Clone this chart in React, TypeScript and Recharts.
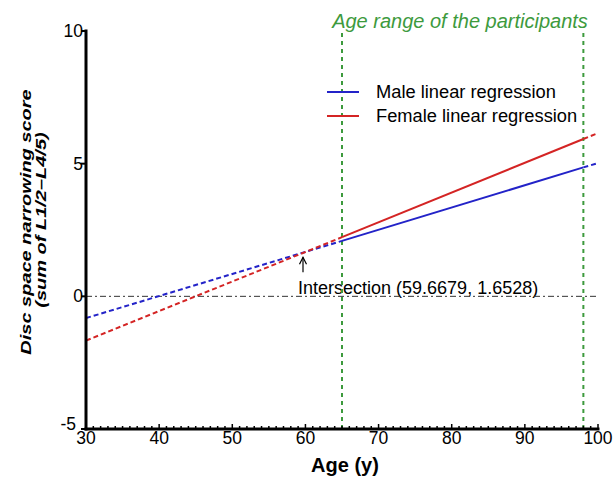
import { LineChart, Line, XAxis, YAxis, ReferenceLine, ReferenceDot, Legend, Customized } from "recharts";

const FONT = "Liberation Sans, Arial, sans-serif";
const BLUE = "#2323c8";
const RED = "#d42424";
const GREEN = "#3d9a3d";

const MAJOR_X = [30, 40, 50, 60, 70, 80, 90, 100];
const X_TICKS = Array.from({ length: 71 }, (_, i) => 30 + i);
const Y_TICKS = [-5, 0, 5, 10];

// age range of the participants
const AGE_RANGE = [65, 98];
const INTERSECTION = { age: 59.6679, score: 1.6528 };

// regression lines, split at the age range limits
const MALE_BEFORE = [{ age: 30, score: -0.82 }, { age: 65, score: 2.09 }];
const MALE_IN = [{ age: 65, score: 2.09 }, { age: 98, score: 4.86 }];
const MALE_AFTER = [{ age: 98, score: 4.86 }, { age: 100, score: 5.02 }];
const FEMALE_BEFORE = [{ age: 30, score: -1.67 }, { age: 65, score: 2.23 }];
const FEMALE_IN = [{ age: 65, score: 2.23 }, { age: 98, score: 5.93 }];
const FEMALE_AFTER = [{ age: 98, score: 5.93 }, { age: 100, score: 6.15 }];

const SERIES = [
  { name: "Male linear regression", color: BLUE },
  { name: "Female linear regression", color: RED },
];

function XTick({ x, y, payload }: any) {
  const v = payload.value;
  const major = MAJOR_X.includes(v);
  return (
    <g>
      <line x1={x} x2={x} y1={y} y2={y - (major ? 5 : 3)} stroke="#000" strokeWidth={1.5} />
      {major && (
        <text x={x} y={y + 15} textAnchor="middle" fontSize={17.5} fontFamily={FONT} fill="#000">
          {v}
        </text>
      )}
    </g>
  );
}

function YTick({ x, y, payload }: any) {
  // bottom label is nudged so it clears the "30" below it
  const bottom = payload.value === Y_TICKS[0];
  return (
    <g>
      <line x1={x} x2={x - 5} y1={y} y2={y} stroke="#000" strokeWidth={2} />
      <text x={x - (bottom ? 10 : 3)} y={y + (bottom ? 1 : 6)} textAnchor="end" fontSize={17.5} fontFamily={FONT} fill="#000">
        {payload.value}
      </text>
    </g>
  );
}

function Arrowhead({ cx, cy }: any) {
  return <path d={`M${cx - 3.5},${cy + 7} L${cx},${cy} L${cx + 3.5},${cy + 7}`} stroke="#000" strokeWidth={1.2} fill="none" />;
}

function LegendBox() {
  return (
    <div style={{ fontFamily: FONT, fontSize: 18.3 }}>
      {SERIES.map((s) => (
        <div key={s.name} style={{ display: "flex", alignItems: "center", height: 24 }}>
          <div style={{ width: 32, height: 2, background: s.color, marginRight: 17 }} />
          <span>{s.name}</span>
        </div>
      ))}
    </div>
  );
}

function Texts() {
  return (
    <g fontFamily={FONT}>
      <text x={460} y={28} textAnchor="middle" fontSize={20} fontStyle="italic" fill={GREEN}>
        Age range of the participants
      </text>
      <text x={298} y={294} fontSize={18} fill="#000">
        Intersection ({INTERSECTION.age}, {INTERSECTION.score})
      </text>
      <text transform="translate(31,222) rotate(-90) scale(1,0.75)" textAnchor="middle" fontSize={20} fontWeight="bold" fontStyle="italic">
        Disc space narrowing score
      </text>
      <text transform="translate(45.5,220) rotate(-90) scale(1,0.75)" textAnchor="middle" fontSize={20} fontWeight="bold" fontStyle="italic">
        (sum of L1/2–L4/5)
      </text>
      <text x={345} y={472} textAnchor="middle" fontSize={20} fontWeight="bold">
        Age (y)
      </text>
    </g>
  );
}

export default function App() {
  const common = { dataKey: "score", dot: false, isAnimationActive: false, strokeWidth: 2 } as const;
  return (
    <div style={{ position: "absolute", left: 0, top: 0, width: 614, height: 480, background: "#fff" }}>
      <LineChart width={614} height={480} margin={{ top: 31, right: 16, left: 0, bottom: 0 }}>
        <XAxis
          dataKey="age"
          type="number"
          domain={[30, 100]}
          ticks={X_TICKS}
          interval={0}
          allowDataOverflow
          height={51}
          tickSize={0}
          tickMargin={0}
          tickLine={false}
          tick={<XTick />}
          axisLine={{ stroke: "#000", strokeWidth: 3, strokeLinecap: "square" }}
        />
        <YAxis
          type="number"
          domain={[-5, 10]}
          ticks={Y_TICKS}
          interval={0}
          width={86}
          tickSize={0}
          tickMargin={0}
          tickLine={false}
          tick={<YTick />}
          axisLine={{ stroke: "#000", strokeWidth: 3, strokeLinecap: "square" }}
        />
        <ReferenceLine y={0} stroke="#333" strokeWidth={1} strokeDasharray="6 3 2 3" />
        {AGE_RANGE.map((a) => (
          <ReferenceLine key={a} x={a} stroke={GREEN} strokeWidth={2} strokeDasharray="4 4" />
        ))}
        <Line {...common} data={MALE_BEFORE} stroke={BLUE} strokeDasharray="5 3" legendType="none" />
        <Line {...common} data={MALE_IN} stroke={BLUE} name={SERIES[0].name} />
        <Line {...common} data={MALE_AFTER} stroke={BLUE} strokeDasharray="5 3" legendType="none" />
        <Line {...common} data={FEMALE_BEFORE} stroke={RED} strokeDasharray="5 3" legendType="none" />
        <Line {...common} data={FEMALE_IN} stroke={RED} name={SERIES[1].name} />
        <Line {...common} data={FEMALE_AFTER} stroke={RED} strokeDasharray="5 3" legendType="none" />
        <ReferenceLine
          segment={[{ x: INTERSECTION.age, y: 0.91 }, { x: INTERSECTION.age, y: 1.47 }]}
          stroke="#000"
          strokeWidth={1.2}
        />
        <ReferenceDot x={INTERSECTION.age} y={1.47} r={0} shape={<Arrowhead />} />
        <Legend
          layout="vertical"
          align="center"
          verticalAlign="middle"
          content={<LegendBox />}
          wrapperStyle={{ position: "absolute", left: 327, top: 80, width: 280 }}
        />
        <Customized component={Texts} />
      </LineChart>
    </div>
  );
}
